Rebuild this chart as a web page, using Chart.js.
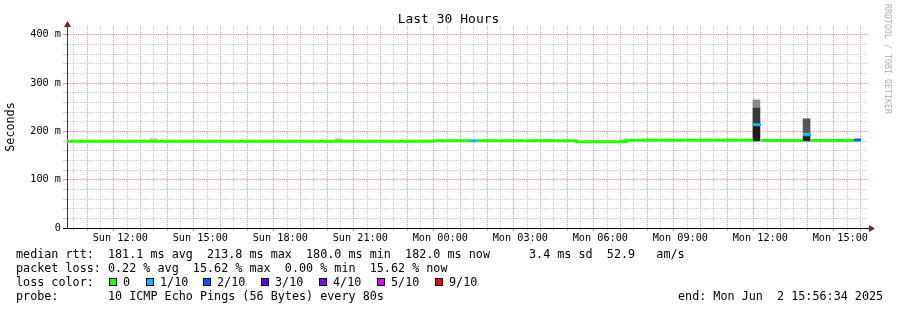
<!DOCTYPE html>
<html>
<head>
<meta charset="utf-8"/>
<title>Smokeping - Last 30 Hours</title>
<script src="https://cdn.jsdelivr.net/npm/chart.js"></script>
<style>
  body { margin: 0; background: #fff; }
  #wrap { position: relative; width: 897px; height: 310px; overflow: hidden; }
  #chart { position: absolute; left: 0; top: 0; }
  .txt {
    position: absolute;
    left: 16px;
    font-family: 'DejaVu Sans Mono', monospace;
    font-size: 11.75px;
    line-height: 14px;
    white-space: pre;
    color: #000;
  }
  .box {
    position: absolute;
    top: 278px;
    width: 8px;
    height: 8px;
    box-sizing: border-box;
    border: 1px solid #000;
  }
  #mark {
    position: absolute;
    left: 892px;
    top: 4px;
    transform: rotate(90deg);
    transform-origin: 0 0;
    font-family: 'DejaVu Sans Mono', monospace;
    font-size: 8.3px;
    line-height: 9px;
    color: #b0b0b0;
    white-space: pre;
  }
</style>
</head>
<body>
<div id="wrap">
<canvas id="chart" width="897" height="310"></canvas>
<div class="txt" style="top:247px">median rtt:  181.1 ms avg  213.8 ms max  180.0 ms min  182.0 ms now</div>
<div class="txt" style="top:247px;left:529px">3.4 ms sd  52.9   am/s</div>
<div class="txt" style="top:261px">packet loss: 0.22 % avg  15.62 % max  0.00 % min  15.62 % now</div>
<div class="txt" style="top:275px">loss color:</div>
<div id="lossLegend"></div>
<div class="txt" style="top:289px">probe:       10 ICMP Echo Pings (56 Bytes) every 80s</div>
<div class="txt" style="top:289px;left:678px">end: Mon Jun  2 15:56:34 2025</div>
<div id="mark">RRDTOOL / TOBI OETIKER</div>
</div>
<script>
    // x values are hours since Sun 00:00
    const xMin = 10, xMax = 40;
    const xTickHours = [12, 15, 18, 21, 24, 27, 30, 33, 36, 39];
    const xTickLabels = ['Sun 12:00', 'Sun 15:00', 'Sun 18:00', 'Sun 21:00', 'Mon 00:00',
                         'Mon 03:00', 'Mon 06:00', 'Mon 09:00', 'Mon 12:00', 'Mon 15:00'];
    const yMax = 418;
    const yTickValues = [0, 100, 200, 300, 400];
    const yTickLabels = ['0', '100 m', '200 m', '300 m', '400 m'];

    // median rtt (ms), one entry per run, loss in tenths
    const medianStart = [10.0, 23.72, 25.11, 25.37, 29.1, 30.96, 35.72, 36.02, 37.6, 37.9, 39.51];
    const medianEnd = 39.77;
    const medianMs = [179.5, 180.3, 180.4, 180.3, 178.7, 181.4, 213.8, 181.0, 193.0, 181.3, 182.0];
    const medianLoss = [0, 0, 1, 0, 0, 0, 1, 0, 1, 0, 2];

    // smoke: spread of the pings, one 16 min step each
    const stepHours = 16 / 60;
    const smokeStart = [13.11, 20.05, 27.51, 27.78, 28.04, 30.70, 35.72, 35.72, 35.72, 37.6, 37.6];
    const smokeLow   = [181, 181, 181, 181, 181, 180, 248, 212, 180, 197, 180];
    const smokeHigh  = [186, 186, 184, 184, 184, 184, 265, 248, 212, 226, 192];
    const smokeLevel = [1, 1, 1, 1, 1, 1, 2, 4, 5, 3, 5];

    const lossTenths = [0, 1, 2, 3, 4, 5, 9];
    const lossLabels = ['0', '1/10', '2/10', '3/10', '4/10', '5/10', '9/10'];
    const lossColors = ['#26ff00', '#00b8ff', '#0059ff', '#5e00ff', '#7e00ff', '#dd00ff', '#ff0000'];

    const smokeShades = ['#ffffff', '#cfcfcf', '#8a8a8a', '#555555', '#3a3a3a', '#1e1e1e'];
    const majorGrid = 'rgb(242,150,150)';
    const minorGrid = 'rgb(205,205,205)';
    const legendX = [109, 146, 203, 261, 319, 377, 435];

    function lossColor(t) {
      return lossColors[lossTenths.indexOf(t)];
    }

    // loss color legend
    const lossLegend = document.getElementById('lossLegend');
    lossTenths.forEach((t, i) => {
      const b = document.createElement('span');
      b.className = 'box';
      b.style.left = legendX[i] + 'px';
      b.style.background = lossColor(t);
      lossLegend.appendChild(b);
      const l = document.createElement('span');
      l.className = 'txt';
      l.style.top = '275px';
      l.style.left = (legendX[i] + 14) + 'px';
      l.textContent = lossLabels[i];
      lossLegend.appendChild(l);
    });

    // median line as flat runs
    const medianPts = [];
    medianStart.forEach((t, i) => {
      const end = i + 1 < medianStart.length ? medianStart[i + 1] : medianEnd;
      medianPts.push({x: t, y: medianMs[i]});
      medianPts.push({x: end, y: medianMs[i]});
    });

    function segColor(idx) {
      const run = Math.floor(idx / 2);
      if (idx % 2 === 0) return lossColor(medianLoss[run]);
      if (medianLoss[run] === medianLoss[run + 1]) return lossColor(medianLoss[run]);
      return 'rgba(0,0,0,0)';
    }

    function xGrid(c) {
      if (!c.tick) return minorGrid;
      return Number.isInteger(c.tick.value) ? majorGrid : minorGrid;
    }
    function yGrid(c) {
      if (!c.tick) return minorGrid;
      return c.tick.value % 100 === 0 ? majorGrid : minorGrid;
    }

    const axisArrows = {
      id: 'axisArrows',
      afterDraw(chart) {
        const {ctx, chartArea: a} = chart;
        ctx.save();
        ctx.strokeStyle = '#000';
        ctx.lineWidth = 1;
        ctx.beginPath();
        ctx.moveTo(a.right, a.bottom + 0.5);
        ctx.lineTo(a.right + 3, a.bottom + 0.5);
        ctx.stroke();
        ctx.fillStyle = '#8b1a1a';
        ctx.beginPath();
        ctx.moveTo(a.left + 0.5, a.top - 5);
        ctx.lineTo(a.left - 3, a.top + 1);
        ctx.lineTo(a.left + 4, a.top + 1);
        ctx.closePath();
        ctx.fill();
        ctx.beginPath();
        ctx.moveTo(a.right + 8, a.bottom + 0.5);
        ctx.lineTo(a.right + 2, a.bottom - 3);
        ctx.lineTo(a.right + 2, a.bottom + 4);
        ctx.closePath();
        ctx.fill();
        ctx.restore();
      }
    };

    Chart.defaults.font.family = "'DejaVu Sans Mono', monospace";
    Chart.defaults.color = '#000';

    const ctx = document.getElementById('chart').getContext('2d');
    new Chart(ctx, {
      type: 'line',
      data: {
        datasets: [{
          type: 'line',
          data: medianPts,
          borderWidth: 3,
          borderColor: lossColors[0],
          pointRadius: 0,
          fill: false,
          tension: 0,
          order: 1,
          segment: { borderColor: c => segColor(c.p0DataIndex) }
        }, {
          type: 'bar',
          data: smokeStart.map((t, i) => ({x: t + stepHours / 2, y: [smokeLow[i], smokeHigh[i]]})),
          backgroundColor: smokeLevel.map(l => smokeShades[l]),
          borderWidth: 0,
          barThickness: 7,
          grouped: false,
          order: 2
        }]
      },
      options: {
        responsive: false,
        animation: false,
        layout: { padding: 0 },
        plugins: {
          legend: { display: false },
          tooltip: { enabled: false },
          title: {
            display: true,
            text: 'Last 30 Hours',
            color: '#000',
            font: { size: 13, weight: 'normal', lineHeight: 1 },
            padding: { top: 13, bottom: 0 }
          }
        },
        scales: {
          x: {
            type: 'linear',
            min: xMin,
            max: xMax,
            offset: false,
            ticks: {
              stepSize: 0.5,
              autoSkip: false,
              maxRotation: 0,
              padding: 1,
              font: { size: 10.2 },
              callback: v => {
                const i = xTickHours.indexOf(v);
                return i < 0 ? '' : xTickLabels[i];
              }
            },
            grid: {
              color: xGrid,
              tickColor: c => (c.tick && c.tick.value === xMin) ? '#444' : xGrid(c),
              tickLength: 3
            },
            border: { color: '#000', dash: [1, 1] },
            afterFit: s => { s.height = 82; }
          },
          y: {
            min: 0,
            max: yMax,
            ticks: {
              stepSize: 20,
              includeBounds: false,
              autoSkip: false,
              padding: 2,
              font: { size: 10.2 },
              callback: v => {
                const i = yTickValues.indexOf(v);
                return i < 0 ? '' : yTickLabels[i];
              }
            },
            grid: {
              color: yGrid,
              tickColor: c => (c.tick && c.tick.value === 0) ? '#000' : yGrid(c),
              tickLength: 4
            },
            border: { color: '#3d3d3d', dash: [1, 1] },
            title: {
              display: true,
              text: 'Seconds',
              color: '#000',
              font: { size: 11.75 },
              padding: { top: 4, bottom: 0 }
            },
            afterFit: s => { s.width = 67; }
          },
          // empty right margin so the title stays centred on the whole image
          margin: {
            type: 'linear',
            position: 'right',
            grid: { display: false, drawTicks: false },
            border: { display: false },
            ticks: { display: false },
            afterFit: s => { s.width = 30; }
          }
        }
      },
      plugins: [axisArrows]
    });
</script>
</body>
</html>
